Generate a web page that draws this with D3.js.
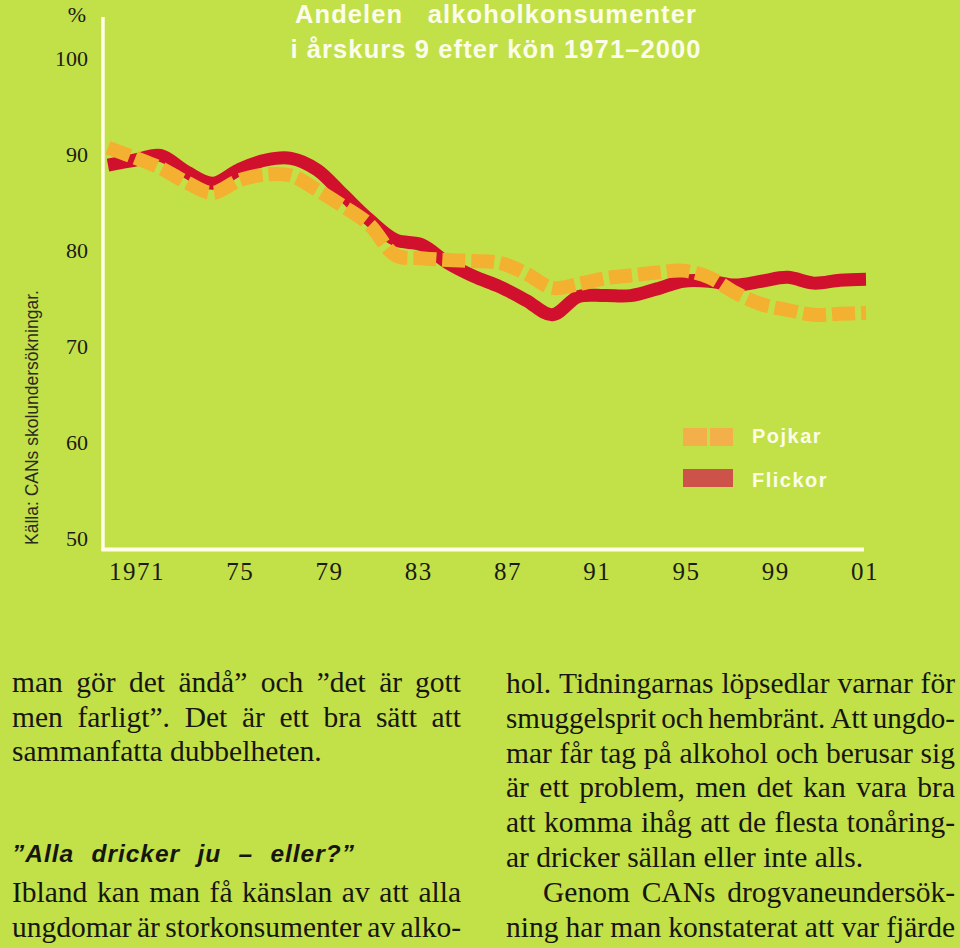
<!DOCTYPE html>
<html>
<head>
<meta charset="utf-8">
<script src="https://cdn.jsdelivr.net/npm/d3@7/dist/d3.min.js"></script>
<style>
  html, body { margin: 0; padding: 0; background: #C2E048; }
  svg { display: block; }
</style>
</head>
<body>
<svg id="chart" width="960" height="948"></svg>
<script>
// ---------- DATA ----------
const years = [1971,1972,1973,1974,1975,1976,1977,1978,1979,1980,1981,1982,1983,1984,1985,
               1986,1987,1988,1989,1990,1991,1992,1993,1994,1995,1996,1997,1998,1999,2000];
const flickor = [90.1,90.6,91.1,89.4,88.2,89.6,90.6,90.8,89.6,87.0,84.4,82.3,81.8,79.9,78.5,
                 77.4,76.0,74.5,76.4,76.5,76.5,77.2,78.0,78.0,77.6,78.0,78.4,77.8,78.1,78.2];
const pojkar  = [91.9,90.9,89.8,88.3,87.2,88.5,89.1,89.0,87.5,85.8,83.9,80.7,80.4,80.2,80.1,
                 79.9,78.8,77.3,77.7,78.3,78.6,78.9,79.1,78.4,76.8,75.6,75.0,74.5,74.6,74.7];
const yTicks = [50,60,70,80,90,100];
const xTickLabels = ["1971","75","79","83","87","91","95","99","01"];
const seriesNames = ["Pojkar","Flickor"];
const titleLines = ["Andelen   alkoholkonsumenter", "i årskurs 9 efter kön 1971–2000"];
const sourceText = "Källa: CANs skolundersökningar.";
const leftColumn = [
  ["man gör det ändå” och ”det är gott", true],
  ["men farligt”. Det är ett bra sätt att", true],
  ["sammanfatta dubbelheten.", false]
];
const heading = "”Alla dricker ju – eller?”";
const leftColumn2 = [
  ["Ibland kan man få känslan av att alla", true],
  ["ungdomar är storkonsumenter av alko-", true]
];
const rightColumn = [
  ["hol. Tidningarnas löpsedlar varnar för", true, 0],
  ["smuggelsprit och hembränt. Att ungdo-", true, 0],
  ["mar får tag på alkohol och berusar sig", true, 0],
  ["är ett problem, men det kan vara bra", true, 0],
  ["att komma ihåg att de flesta tonåring-", true, 0],
  ["ar dricker sällan eller inte alls.", false, 0],
  ["Genom  CANs  drogvaneundersök-", true, 37],
  ["ning har man konstaterat att var fjärde", true, 0]
];

// ---------- SETUP ----------
const svg = d3.select("#chart");
const BG = "#C2E048";
const RED = "#D0102C";
const ORANGE = "#F4B030";
const AXIS = "#FFFDE6";
svg.append("rect").attr("width", 960).attr("height", 948).attr("fill", BG);

const x = d3.scaleLinear().domain([1971, 2000]).range([108, 866]);
const y = d3.scaleLinear().domain([50, 100]).range([550, 70]);
const xLab = d3.scalePoint().domain(xTickLabels).range([151, 865]);

// Axes lines
svg.append("line").attr("x1", 103).attr("x2", 103).attr("y1", 17).attr("y2", 551)
  .attr("stroke", AXIS).attr("stroke-width", 3.5);
svg.append("line").attr("x1", 101.5).attr("x2", 864).attr("y1", 549.5).attr("y2", 549.5)
  .attr("stroke", AXIS).attr("stroke-width", 4);

// Y ticks
svg.append("g").selectAll("text").data(yTicks).join("text")
  .attr("x", 88).attr("y", d => y(d) - 4)
  .attr("text-anchor", "end")
  .attr("font-family", "Liberation Serif, serif").attr("font-size", 22)
  .attr("fill", "#1b1b14")
  .text(d => d);
svg.append("text").attr("x", 77).attr("y", 22).attr("text-anchor", "middle")
  .attr("font-family", "Liberation Serif, serif").attr("font-size", 22)
  .attr("fill", "#1b1b14").text("%");

// X ticks
svg.append("g").selectAll("text").data(xTickLabels).join("text")
  .attr("x", (d, i) => xLab(d) + (i === 0 ? -14 : 0)).attr("y", 580)
  .attr("text-anchor", "middle")
  .attr("font-family", "Liberation Serif, serif").attr("font-size", 25)
  .attr("letter-spacing", 1.5)
  .attr("fill", "#1b1b14")
  .text(d => d);

// Lines
const line = d3.line().x((d, i) => x(years[i])).y(d => y(d)).curve(d3.curveCatmullRom.alpha(0.5));
svg.append("path").attr("d", line(flickor)).attr("fill", "none")
  .attr("stroke", RED).attr("stroke-width", 13).attr("stroke-linejoin", "round");
svg.append("path").attr("d", line(pojkar)).attr("fill", "none")
  .attr("stroke", ORANGE).attr("stroke-width", 14).attr("stroke-dasharray", "23,6");

// Title
svg.append("g").selectAll("text").data(titleLines).join("text")
  .attr("x", 496).attr("y", (d, i) => 23 + i * 35)
  .attr("text-anchor", "middle")
  .attr("font-family", "Liberation Sans, Arial, sans-serif").attr("font-size", 25.5)
  .attr("font-weight", "bold").attr("letter-spacing", 1.1)
  .attr("fill", "#FBFDEA").style("white-space", "pre")
  .text(d => d);

// Legend
const lg = svg.append("g");
lg.append("rect").attr("x", 683).attr("y", 428).attr("width", 24).attr("height", 18).attr("fill", "#F3B04A");
lg.append("rect").attr("x", 710).attr("y", 428).attr("width", 23).attr("height", 18).attr("fill", "#F3B04A");
lg.append("rect").attr("x", 683).attr("y", 469).attr("width", 50).attr("height", 18).attr("fill", "#CD5249");
lg.selectAll("text.lg").data(seriesNames).join("text").attr("class", "lg")
  .attr("x", 752).attr("y", (d, i) => 443 + i * 44)
  .attr("font-family", "Liberation Sans, Arial, sans-serif").attr("font-size", 20)
  .attr("font-weight", "bold").attr("letter-spacing", 1.5)
  .attr("fill", "#FBFDEA").text(d => d);

// Source (vertical)
svg.append("text").attr("transform", "translate(38,545) rotate(-90)")
  .attr("font-family", "Liberation Sans, Arial, sans-serif").attr("font-size", 17.5)
  .attr("fill", "#2a2a20").text(sourceText);

// ---------- BODY TEXT ----------
function setLine(text, x0, width, yy, justify, opts) {
  opts = opts || {};
  const family = opts.family || "Liberation Serif, serif";
  let size = opts.size || 29.5;
  const words = text.split(/\s+/).filter(w => w.length);
  const t = svg.append("text").attr("y", yy)
    .attr("font-family", family).attr("font-size", size).attr("fill", "#16160f");
  if (opts.weight) t.attr("font-weight", opts.weight);
  if (opts.style) t.attr("font-style", opts.style);
  if (opts.ls) t.attr("letter-spacing", opts.ls);
  const spans = words.map(w => t.append("tspan").text(w));
  const measure = () => spans.map(s => s.node().getComputedTextLength());
  let widths = measure();
  const sp = size * 0.25;
  let need = d3.sum(widths) + sp * 0.7 * (words.length - 1);
  if (need > width) {
    size = size * width / need;
    t.attr("font-size", size);
    widths = measure();
  }
  const total = d3.sum(widths);
  const gap = (justify && words.length > 1) ? (width - total) / (words.length - 1) : size * 0.25;
  let cx = x0;
  spans.forEach((s, i) => { s.attr("x", cx); cx += widths[i] + gap; });
}
const LH = 34.7;
leftColumn.forEach((d, i) => setLine(d[0], 12, 449, 692 + i * LH, d[1]));
setLine(heading, 12, 343, 862, true,
  { family: "Liberation Sans, Arial, sans-serif", size: 24.5, weight: "bold", style: "italic", ls: 1 });
leftColumn2.forEach((d, i) => setLine(d[0], 12, 449, 902 + i * LH, d[1]));
rightColumn.forEach((d, i) => setLine(d[0], 506 + d[2], 449 - d[2], 693 + i * 34.8, d[1]));
</script>
</body>
</html>
